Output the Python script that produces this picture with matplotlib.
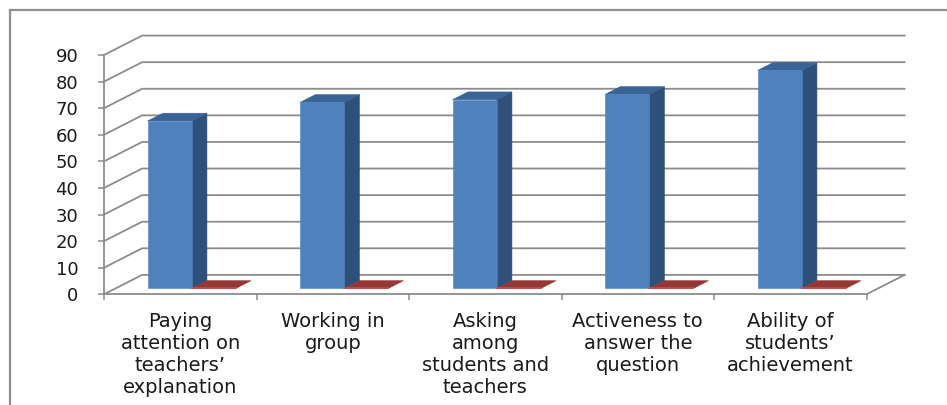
import matplotlib
matplotlib.use("Agg")
import matplotlib.pyplot as plt
from matplotlib.patches import Polygon
from matplotlib.lines import Line2D

# Data
categories = [
    "Paying\nattention on\nteachers’\nexplanation",
    "Working in\ngroup",
    "Asking\namong\nstudents and\nteachers",
    "Activeness to\nanswer the\nquestion",
    "Ability of\nstudents’\nachievement",
]
series_a = [63, 70, 71, 73, 82]   # blue columns
series_b = [0, 0, 0, 0, 0]        # red columns
y_ticks = [0, 10, 20, 30, 40, 50, 60, 70, 80, 90]

# Oblique 3D look: depth offset expressed in data units
DX = 0.25          # horizontal shift of the back wall (category units)
DY = 7.3           # vertical shift of the back wall (value units)
D_FRONT, D_BACK = 0.3, 0.7   # depth slot occupied by the columns
BAR_W = 0.289      # width of one column (category units)

GRID = "#8c8c8c"
BLUE_FRONT, BLUE_TOP, BLUE_SIDE = "#4f81bd", "#3b6496", "#30507c"
RED_TOP, RED_FRONT = "#953735", "#c0504d"

fig = plt.figure(figsize=(9.47, 4.05), dpi=100)
fig.patch.set_facecolor("white")

# outer chart frame
fig.add_artist(Line2D([10 / 947, 10 / 947], [-0.05, 1 - 10 / 405],
                      transform=fig.transFigure, color="#8f8f8f", lw=1.6))
fig.add_artist(Line2D([10 / 947, 1.05], [1 - 10 / 405, 1 - 10 / 405],
                      transform=fig.transFigure, color="#8f8f8f", lw=1.6))

ax = fig.add_axes([104 / 947, (405 - 294.3) / 405, 762.5 / 947, 239.3 / 405])
ax.set_xlim(0, len(categories))
ax.set_ylim(0, 90)
ax.set_facecolor("none")

n = len(categories)

# back wall gridlines and left wall diagonals
for v in y_ticks:
    ax.plot([0, DX, n + DX], [v, v + DY, v + DY], color=GRID, lw=1.3,
            clip_on=False, zorder=1, solid_joinstyle="miter")
# right floor edge
ax.plot([n, n + DX], [0, DY], color=GRID, lw=1.3, clip_on=False, zorder=1)


def column(x0, value, front, top, side, z):
    fx = x0 + D_FRONT * DX
    fy = D_FRONT * DY
    ddx = (D_BACK - D_FRONT) * DX
    ddy = (D_BACK - D_FRONT) * DY
    y1 = fy + value
    faces = [
        ([(fx + BAR_W, fy), (fx + BAR_W + ddx, fy + ddy),
          (fx + BAR_W + ddx, y1 + ddy), (fx + BAR_W, y1)], side),
        ([(fx, y1), (fx + ddx, y1 + ddy),
          (fx + BAR_W + ddx, y1 + ddy), (fx + BAR_W, y1)], top),
        ([(fx, fy), (fx + BAR_W, fy), (fx + BAR_W, y1), (fx, y1)], front),
    ]
    for pts, col in faces:
        ax.add_patch(Polygon(pts, closed=True, facecolor=col, edgecolor=col,
                             lw=0.4, clip_on=False, zorder=z))


for i, (a, b) in enumerate(zip(series_a, series_b)):
    start = i + 0.5 - BAR_W
    column(start, a, BLUE_FRONT, BLUE_TOP, BLUE_SIDE, 3 + i)
    # zero-height red column: its top face lies flat on the floor
    fx = start + BAR_W + D_FRONT * DX
    fy = D_FRONT * DY + b
    ddx = (D_BACK - D_FRONT) * DX
    ddy = (D_BACK - D_FRONT) * DY
    ax.add_patch(Polygon([(fx, fy), (fx + BAR_W, fy),
                          (fx + BAR_W + ddx, fy + ddy), (fx + ddx, fy + ddy)],
                         closed=True, facecolor=RED_TOP, edgecolor=RED_TOP,
                         lw=0.4, clip_on=False, zorder=3 + i))
    ax.plot([fx, fx + BAR_W], [fy, fy], color=RED_FRONT, lw=1.2,
            clip_on=False, zorder=3 + i)

# axes: front left axis and floor edge
for s in ("top", "right"):
    ax.spines[s].set_visible(False)
for s in ("left", "bottom"):
    ax.spines[s].set_color(GRID)
    ax.spines[s].set_linewidth(1.3)
    ax.spines[s].set_zorder(2)

ax.set_yticks(y_ticks)
ax.set_yticklabels([str(t) for t in y_ticks])
ax.tick_params(axis="y", direction="out", length=4.5, width=1.1, color=GRID,
               pad=14, labelsize=13, labelcolor="#1a1a1a")

ax.set_xticks([i + 0.5 for i in range(n)])
ax.set_xticklabels(categories, fontsize=14, color="#1a1a1a", linespacing=1.2,
                   va="top")
ax.set_xticks(list(range(n + 1)), minor=True)
ax.tick_params(axis="x", which="major", length=0, pad=13)
ax.tick_params(axis="x", which="minor", direction="out", length=4.5,
               width=1.1, color=GRID)

fig.savefig("out.png", dpi=100, facecolor="white")
